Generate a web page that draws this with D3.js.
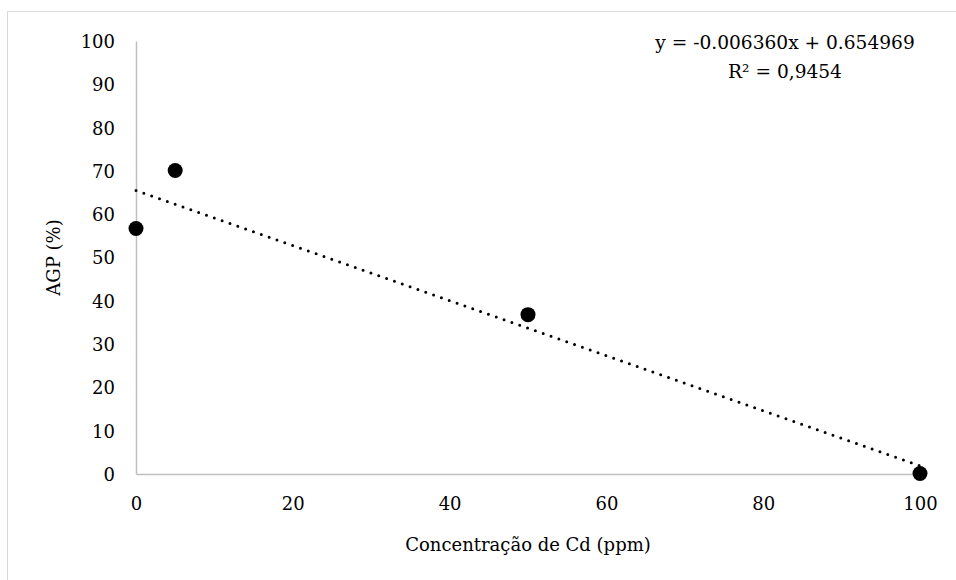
<!DOCTYPE html>
<html>
<head>
<meta charset="utf-8">
<script src="https://cdn.jsdelivr.net/npm/d3@7"></script>
<style>
  body { margin: 0; background: #fff; }
</style>
</head>
<body>
<svg width="956" height="580"></svg>
<script>
  // data
  var concentrations = [0, 5, 50, 100],
      agp = [56.7, 70.1, 36.8, 0.1];
  var xTicks = [0, 20, 40, 60, 80, 100],
      yTicks = [0, 10, 20, 30, 40, 50, 60, 70, 80, 90, 100];
  // trendline as printed on the chart (fraction units)
  var slope = -0.006360, intercept = 0.654969;
  var equationLabel = "y = -0.006360x + 0.654969",
      r2Label = "R² = 0,9454";

  var serif = "DejaVu Serif";

  var svg = d3.select("svg"),
      margin = {top: 41, right: 36, bottom: 106, left: 136},
      width = svg.attr("width") - margin.left - margin.right,
      height = svg.attr("height") - margin.top - margin.bottom;

  // outer chart border
  svg.append("rect")
      .attr("x", 7.5).attr("y", 11.5)
      .attr("width", 960).attr("height", 600)
      .attr("fill", "none")
      .attr("stroke", "#d9d9d9");

  var g = svg.append("g").attr("transform", "translate(" + margin.left + "," + margin.top + ")");

  var x = d3.scaleLinear().domain([0, 100]).range([0, width]),
      y = d3.scaleLinear().domain([0, 100]).range([height, 0]);

  var xAxis = g.append("g")
      .attr("transform", "translate(0," + height + ")")
      .call(d3.axisBottom(x).tickValues(xTicks).tickSize(0).tickPadding(23));

  var yAxis = g.append("g")
      .call(d3.axisLeft(y).tickValues(yTicks).tickSize(0).tickPadding(21));

  [xAxis, yAxis].forEach(function(a) {
    a.attr("font-family", serif).attr("font-size", 18);
    a.select(".domain").attr("stroke", "#bfbfbf").attr("stroke-width", 1.5);
  });
  yAxis.selectAll("text").attr("dy", "0.36em");
  xAxis.selectAll("text").attr("dy", "0.72em");

  // trendline
  var trend = [0, 100].map(function(c) { return {x: c, y: (slope * c + intercept) * 100}; });
  g.append("line")
      .attr("x1", x(trend[0].x)).attr("y1", y(trend[0].y))
      .attr("x2", x(trend[1].x)).attr("y2", y(trend[1].y))
      .attr("stroke", "#000")
      .attr("stroke-width", 3)
      .attr("stroke-linecap", "round")
      .attr("stroke-dasharray", "0,8.3");

  var points = concentrations.map(function(c, i) { return {x: c, y: agp[i]}; });
  g.selectAll(".pt")
      .data(points)
      .enter().append("circle")
      .attr("class", "pt")
      .attr("cx", function(d) { return x(d.x); })
      .attr("cy", function(d) { return y(d.y); })
      .attr("r", 7.5)
      .attr("fill", "#000");

  // equation box
  svg.append("text")
      .attr("x", 785).attr("y", 49)
      .attr("text-anchor", "middle")
      .attr("font-family", serif)
      .attr("font-size", 18.6)
      .text(equationLabel);
  svg.append("text")
      .attr("x", 785).attr("y", 78)
      .attr("text-anchor", "middle")
      .attr("font-family", serif)
      .attr("font-size", 18.6)
      .text(r2Label);

  // axis titles
  svg.append("text")
      .attr("x", margin.left + width / 2)
      .attr("y", 551)
      .attr("text-anchor", "middle")
      .attr("font-family", serif)
      .attr("font-size", 18)
      .text("Concentração de Cd (ppm)");

  svg.append("text")
      .attr("transform", "translate(60," + (margin.top + height / 2) + ") rotate(-90)")
      .attr("text-anchor", "middle")
      .attr("font-family", serif)
      .attr("font-size", 18)
      .text("AGP (%)");
</script>
</body>
</html>
